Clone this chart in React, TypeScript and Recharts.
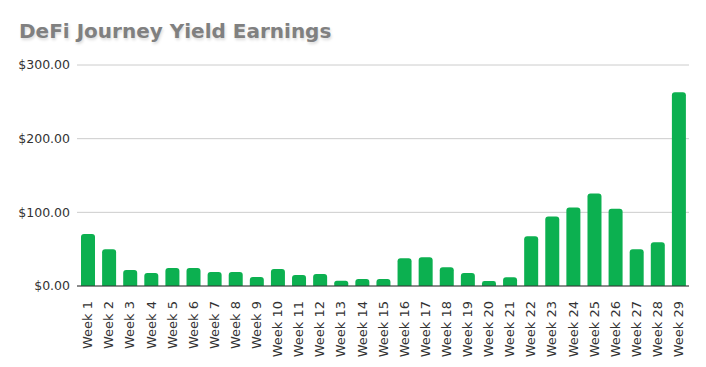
import { Bar, BarChart, CartesianGrid, XAxis, YAxis } from 'recharts'

const weeks = [
  'Week 1', 'Week 2', 'Week 3', 'Week 4', 'Week 5', 'Week 6', 'Week 7', 'Week 8', 'Week 9', 'Week 10',
  'Week 11', 'Week 12', 'Week 13', 'Week 14', 'Week 15', 'Week 16', 'Week 17', 'Week 18', 'Week 19', 'Week 20',
  'Week 21', 'Week 22', 'Week 23', 'Week 24', 'Week 25', 'Week 26', 'Week 27', 'Week 28', 'Week 29',
]

const earnings = [
  70.5, 50, 21.6, 17.5, 24.3, 24.3, 18.9, 18.9, 12.1, 23,
  14.8, 16.2, 7.2, 9.4, 9.4, 37.8, 39, 25.6, 17.5, 6.7,
  12, 67.5, 94.5, 106.6, 125.5, 105, 50, 59.4, 263,
]

const yTicks = [0, 100, 200, 300]

const font = '"DejaVu Sans", Verdana, sans-serif'

// rotated week labels, text ends just below the axis
const WeekTick = (props: any) => {
  const { x, y, payload } = props
  return (
    <text
      x={x}
      y={y + 7}
      dy="0.36em"
      textAnchor="end"
      transform={`rotate(-90, ${x}, ${y + 7})`}
      fill="#333"
      fontSize={13}
      fontFamily={font}
    >
      {payload.value}
    </text>
  )
}

export default function App() {
  const data = weeks.map((week, i) => ({ week, value: earnings[i] }))

  return (
    <div style={{ position: 'absolute', left: 0, top: 0, width: 706, height: 367, background: '#fff' }}>
      <div
        style={{
          position: 'absolute',
          left: 19,
          top: 19,
          fontFamily: font,
          fontWeight: 'bold',
          fontSize: 20,
          lineHeight: '24px',
          color: '#808080',
          textShadow: '1px 2px 3px rgba(0,0,0,0.15)',
          whiteSpace: 'nowrap',
        }}
      >
        DeFi Journey Yield Earnings
      </div>
      <BarChart
        width={706}
        height={367}
        data={data}
        margin={{ top: 65, right: 17, left: 0, bottom: 0 }}
        barSize={14}
      >
        <CartesianGrid vertical={false} stroke="#cccccc" />
        <XAxis
          dataKey="week"
          interval={0}
          height={81}
          tickLine={false}
          axisLine={{ stroke: '#333' }}
          tick={<WeekTick />}
        />
        <YAxis
          width={77}
          domain={[0, 300]}
          ticks={yTicks}
          axisLine={false}
          tickLine={false}
          tickMargin={1}
          tickFormatter={(v: number) => `$${v.toFixed(2)}`}
          tick={{ fill: '#333', fontSize: 12.5, fontFamily: font }}
        />
        <Bar dataKey="value" fill="#0cb050" radius={[3, 3, 0, 0]} isAnimationActive={false} />
      </BarChart>
    </div>
  )
}
